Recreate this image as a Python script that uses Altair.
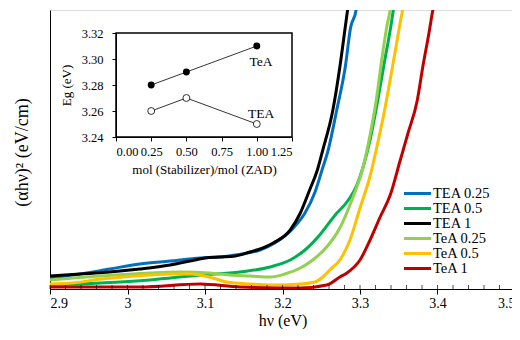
import altair as alt
import pandas as pd

FONT = "Liberation Serif"

# ---------------- main chart data ----------------
series = ["TEA 0.25", "TEA 0.5", "TEA 1", "TeA 0.25", "TeA 0.5", "TeA 1"]
colors = ["#0070C0", "#00B050", "#000000", "#92D050", "#FFC000", "#C00000"]

hv_tea025 = [2.900, 2.939, 2.977, 3.016, 3.055, 3.094, 3.119, 3.139, 3.171, 3.190,
             3.214, 3.229, 3.242, 3.251, 3.259, 3.270, 3.281, 3.288, 3.295, 3.297]
ab_tea025 = [11, 15, 20, 25, 28, 31, 32, 34, 39, 46,
             61, 76, 97, 119, 139, 179, 222, 262, 279, 290]

hv_tea05 = [2.900, 2.965, 3.029, 3.094, 3.145, 3.184, 3.210, 3.229, 3.248, 3.268,
            3.285, 3.296, 3.304, 3.313, 3.323, 3.332, 3.339, 3.343, 3.345]
ab_tea05 = [4, 6, 9, 14, 17, 22, 29, 39, 54, 74,
            89, 104, 122, 149, 189, 229, 259, 279, 290]

hv_tea1 = [2.900, 2.939, 2.977, 3.016, 3.055, 3.087, 3.100, 3.119, 3.139, 3.158,
           3.167, 3.188, 3.210, 3.223, 3.235, 3.245, 3.252, 3.265, 3.274, 3.281, 3.285]
ab_tea1 = [13, 15, 17, 20, 24, 29, 31, 32, 33, 37,
           39, 46, 59, 76, 99, 119, 139, 179, 222, 262, 285]

hv_tea_a025 = [2.900, 2.965, 3.029, 3.068, 3.106, 3.132, 3.158, 3.184, 3.203, 3.223,
               3.239, 3.257, 3.274, 3.291, 3.303, 3.313, 3.321, 3.328, 3.335, 3.339, 3.341]
ab_tea_a025 = [9, 13, 16, 17, 16, 14, 13, 12, 15, 21,
               29, 42, 61, 92, 119, 154, 189, 229, 264, 279, 290]

hv_tea_a05 = [2.900, 2.930, 2.965, 2.994, 3.029, 3.059, 3.081, 3.110, 3.128, 3.158,
              3.188, 3.223, 3.242, 3.252, 3.261, 3.274, 3.287, 3.300, 3.313, 3.322,
              3.330, 3.343, 3.355, 3.358]
ab_tea_a05 = [5, 6, 10, 12, 14, 15, 15, 11, 7, 5,
              4, 5, 7, 12, 19, 29, 49, 81, 113, 143,
              172, 227, 279, 290]

hv_tea_a1 = [2.900, 3.016, 3.094, 3.145, 3.223, 3.257, 3.274, 3.283, 3.300, 3.313,
             3.326, 3.339, 3.352, 3.362, 3.374, 3.381, 3.389, 3.394, 3.397]
ab_tea_a1 = [2, 2, 5, 2, 1, 4, 12, 16, 29, 49,
             72, 94, 129, 156, 189, 222, 256, 279, 290]

x_ticks = [2.9, 3.0, 3.1, 3.2, 3.3, 3.4, 3.5]
minor_ticks = [2.90, 2.92, 2.94, 2.96, 2.98, 3.00, 3.02, 3.04, 3.06, 3.08, 3.10,
               3.12, 3.14, 3.16, 3.18, 3.20, 3.22, 3.24, 3.26, 3.28, 3.30,
               3.32, 3.34, 3.36, 3.38, 3.40, 3.42, 3.44, 3.46, 3.48, 3.50]
x_domain = [2.9, 3.5]
y_domain = [0, 279]

# ---------------- inset data ----------------
mol = [0.25, 0.5, 1.0]
eg_TeA = [3.28, 3.29, 3.31]
eg_TEA = [3.26, 3.27, 3.25]
inset_x_ticks = [0.0, 0.25, 0.5, 0.75, 1.0, 1.25]
inset_y_ticks = [3.24, 3.26, 3.28, 3.30, 3.32]
inset_labels = ["TeA", "TEA"]
inset_label_x = [1.03, 1.03]
inset_label_y = [3.2975, 3.2578]

# ---------------- build tables ----------------
curves = [
    (series[0], hv_tea025, ab_tea025),
    (series[1], hv_tea05, ab_tea05),
    (series[2], hv_tea1, ab_tea1),
    (series[3], hv_tea_a025, ab_tea_a025),
    (series[4], hv_tea_a05, ab_tea_a05),
    (series[5], hv_tea_a1, ab_tea_a1),
]
rows = []
for name, hvs, vals in curves:
    for h, v in zip(hvs, vals):
        rows.append({"series": name, "hv": h, "absorb": v})
df = pd.DataFrame(rows)

main_x_axis = alt.Axis(orient="bottom", values=x_ticks, format=".1~f",
                       labelFont=FONT, labelFontSize=14, labelColor="black",
                       labelPadding=2, tickSize=5, tickColor="black",
                       domainColor="black", grid=False,
                       title="hν (eV)", titleFont=FONT, titleFontSize=16,
                       titleFontWeight="normal", titleColor="black",
                       titleY=31, titleBaseline="middle")
main_y_axis = alt.Axis(orient="left", labels=False, ticks=False, grid=False,
                       domainColor="black",
                       title="(αhν)² (eV/cm)", titleFont=FONT, titleFontSize=18,
                       titleFontWeight="normal", titleColor="black",
                       titleX=-28, titleY=142, titleAngle=-90,
                       titleBaseline="middle", titleAlign="center")

x_main = alt.X("hv:Q", scale=alt.Scale(domain=x_domain, nice=False, zero=False),
               axis=main_x_axis)
y_main = alt.Y("absorb:Q", scale=alt.Scale(domain=y_domain, nice=False, zero=False),
               axis=main_y_axis)

lines = alt.Chart(df).mark_line(strokeWidth=3, clip=True, interpolate="monotone").encode(
    x=x_main,
    y=y_main,
    color=alt.Color("series:N",
                    scale=alt.Scale(domain=series, range=colors),
                    sort=series,
                    legend=alt.Legend(title=None, orient="none", legendX=360, legendY=176,
                                      symbolType="M-2.25,0H2.25", symbolSize=144,
                                      symbolStrokeWidth=3, labelFont=FONT,
                                      labelFontSize=14.5, labelColor="black",
                                      labelOffset=8, rowPadding=0, padding=0)),
)

minor = alt.Chart(pd.DataFrame({"t": minor_ticks})).mark_tick(
    orient="vertical", size=4, thickness=1, color="black", yOffset=-2
).encode(
    x=alt.X("t:Q", scale=alt.Scale(domain=x_domain, nice=False, zero=False), axis=main_x_axis),
    y=alt.datum(0),
)

main_group = alt.layer(lines, minor)

# ---------------- inset ----------------
ix_scale = alt.Scale(domain=[inset_x_ticks[0], inset_x_ticks[-1]], range=[66, 242],
                     nice=False, zero=False)
iy_scale = alt.Scale(domain=[inset_y_ticks[0], inset_y_ticks[-1]], range=[127, 23],
                     nice=False, zero=False)
ix_axis = alt.Axis(orient="bottom", offset=-152, values=inset_x_ticks, format=".2f",
                   labelFont=FONT, labelFontSize=12.5, labelColor="black",
                   tickSize=4, tickColor="black", domainColor="black", grid=False,
                   labelPadding=4, zindex=1,
                   title="mol (Stabilizer)/mol (ZAD)", titleFont=FONT, titleFontSize=13,
                   titleFontWeight="normal", titleColor="black", titlePadding=6)
iy_axis = alt.Axis(orient="left", offset=-66, values=inset_y_ticks, format=".2f",
                   labelFont=FONT, labelFontSize=12.5, labelColor="black",
                   tickSize=4, tickColor="black", domainColor="black", grid=False,
                   labelPadding=9, zindex=1,
                   title="Eg (eV)", titleFont=FONT, titleFontSize=13,
                   titleFontWeight="normal", titleColor="black", titlePadding=8)

frame_df = pd.DataFrame({"x0": [inset_x_ticks[0]], "x1": [inset_x_ticks[-1]],
                         "y0": [inset_y_ticks[0]], "y1": [inset_y_ticks[-1]]})
frame = alt.Chart(frame_df).mark_rect(fill="white", stroke="black", strokeWidth=1.5).encode(
    x=alt.X("x0:Q", scale=ix_scale, axis=ix_axis), x2="x1:Q",
    y=alt.Y("y0:Q", scale=iy_scale, axis=iy_axis), y2="y1:Q",
)

inset_df = pd.DataFrame({"mol": mol, "TeA": eg_TeA, "TEA": eg_TEA})

def inset_line(field):
    return alt.Chart(inset_df).mark_line(color="black", strokeWidth=0.8).encode(
        x=alt.X("mol:Q", scale=ix_scale, axis=ix_axis),
        y=alt.Y(f"{field}:Q", scale=iy_scale, axis=iy_axis),
    )

tea_a_line = inset_line("TeA")
tea_line = inset_line("TEA")
tea_a_pts = alt.Chart(inset_df).mark_point(shape="circle", filled=True, size=48,
                                           color="black", opacity=1).encode(
    x=alt.X("mol:Q", scale=ix_scale, axis=ix_axis),
    y=alt.Y("TeA:Q", scale=iy_scale, axis=iy_axis),
)
tea_pts = alt.Chart(inset_df).mark_point(shape="circle", filled=True, size=48,
                                         fill="white", stroke="black", strokeWidth=0.8,
                                         opacity=1).encode(
    x=alt.X("mol:Q", scale=ix_scale, axis=ix_axis),
    y=alt.Y("TEA:Q", scale=iy_scale, axis=iy_axis),
)
lab_df = pd.DataFrame({"lab": inset_labels, "lx": inset_label_x, "ly": inset_label_y})
labels = alt.Chart(lab_df).mark_text(font=FONT, fontSize=13.5, color="black",
                                     align="center", baseline="middle").encode(
    x=alt.X("lx:Q", scale=ix_scale, axis=ix_axis),
    y=alt.Y("ly:Q", scale=iy_scale, axis=iy_axis),
    text="lab:N",
)

inset_group = alt.layer(frame, tea_a_line, tea_line, tea_a_pts, tea_pts, labels)

chart = alt.layer(main_group, inset_group).resolve_scale(
    x="independent", y="independent", color="independent"
).properties(
    width=465, height=279,
    autosize=alt.AutoSizeParams(type="none"),
    padding={"left": 42, "top": 2, "right": -3, "bottom": 40},
).configure_view(stroke="#808080", strokeWidth=1).configure(font=FONT)

chart.save("out.html", embed_options={"renderer": "svg", "actions": False})
